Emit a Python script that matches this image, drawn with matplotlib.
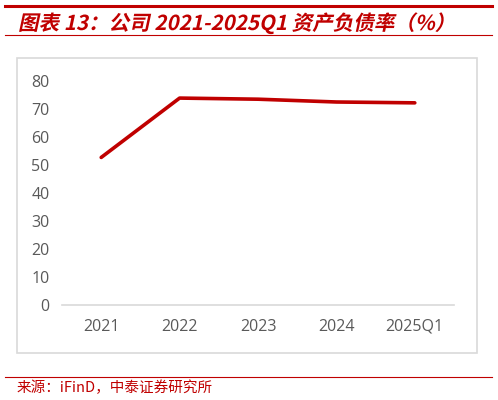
import matplotlib
matplotlib.use("Agg")
import matplotlib.pyplot as plt
from matplotlib import patheffects
from matplotlib.transforms import Affine2D
from matplotlib.lines import Line2D
from matplotlib.patches import Rectangle

plt.rcParams['font.family'] = ['Noto Sans CJK SC', 'DejaVu Sans']

categories = ["2021", "2022", "2023", "2024", "2025Q1"]
debt_ratio = [52.7, 73.9, 73.5, 72.5, 72.2]
y_ticks = [0, 10, 20, 30, 40, 50, 60, 70, 80]

RED = "#C00000"
GREY_TXT = "#595959"


class Skew(patheffects.AbstractPathEffect):
    """fake italic for CJK fonts that ship no italic face"""
    def draw_path(self, renderer, gc, tpath, affine, rgbFace=None):
        renderer.draw_path(gc, tpath, Affine2D().skew_deg(12, 0) + affine, rgbFace)


fig = plt.figure(figsize=(4.98, 4.0), dpi=100)
W, H = 498, 400


def fx(px):
    return px / W


def fy(py):
    return 1 - py / H


# header / footer rules
fig.add_artist(Line2D([fx(5), fx(492)], [fy(6), fy(6)], color=RED, lw=2.2))
fig.add_artist(Line2D([fx(5), fx(492)], [fy(35), fy(35)], color=RED, lw=0.8))
fig.add_artist(Line2D([fx(5), fx(492)], [fy(377), fy(377)], color=RED, lw=0.8))

fig.text(fx(18), fy(30), "图表 13：公司 2021-2025Q1 资产负债率（%）",
         color=RED, fontsize=14.8, fontweight="bold", va="baseline",
         path_effects=[Skew()])
fig.text(fx(17), fy(388), "来源：iFinD，中泰证券研究所", color=RED,
         fontsize=10.5, va="center")

# chart frame
fig.add_artist(Rectangle((fx(17), fy(353)), fx(477) - fx(17), fy(58) - fy(353),
                         transform=fig.transFigure, fill=False,
                         edgecolor="#D9D9D9", lw=1.2))

ax = fig.add_axes([fx(62), fy(305), fx(454) - fx(62), fy(81) - fy(305)])
x = range(len(categories))
ax.plot(x, debt_ratio, color=RED, lw=2.6, solid_capstyle="round",
        solid_joinstyle="round")
ax.set_xlim(-0.5, len(categories) - 0.5)
ax.set_ylim(0, 80)
ax.set_xticks(list(x))
ax.set_xticklabels(categories)
ax.set_yticks(y_ticks)
for s in ["top", "right", "left"]:
    ax.spines[s].set_visible(False)
ax.spines["bottom"].set_color("#D9D9D9")
ax.spines["bottom"].set_linewidth(1.2)
ax.tick_params(axis="both", length=0, labelsize=11.5, labelcolor=GREY_TXT)
ax.tick_params(axis="x", pad=10)
ax.tick_params(axis="y", pad=9)
for lab in ax.get_xticklabels() + ax.get_yticklabels():
    lab.set_family(["Open Sans", "DejaVu Sans"])

fig.savefig("out.png", dpi=100)
